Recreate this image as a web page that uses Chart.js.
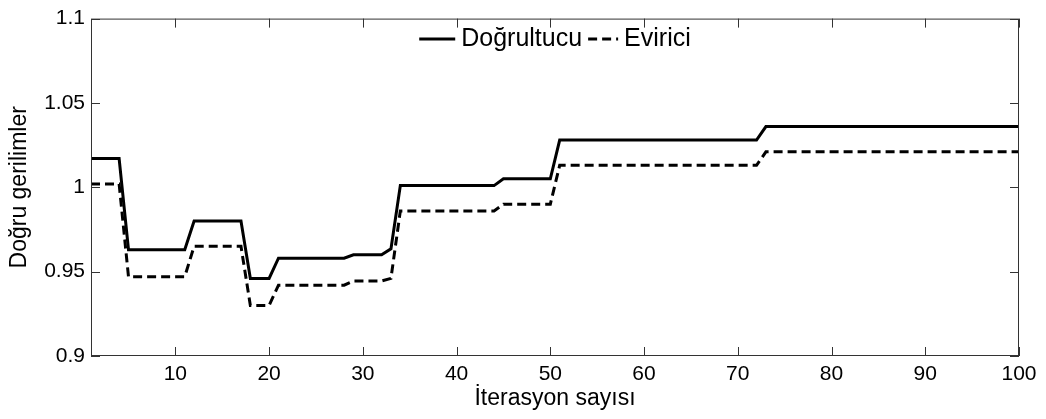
<!DOCTYPE html>
<html>
<head>
<meta charset="utf-8">
<script src="https://cdn.jsdelivr.net/npm/chart.js@4/dist/chart.umd.min.js"></script>
<style>
    html, body { margin: 0; padding: 0; background: #fff; }
</style>
</head>
<body>
<canvas id="voltageChart" width="1046" height="419"></canvas>
<script>
// Breakpoints of the two step curves (iteration -> voltage)
const iterations = [1, 4, 5, 11, 12, 17, 18, 20, 21, 28, 29, 32, 33, 34, 44, 45, 50, 51, 72, 73, 100];
const rectifier  = [1.017, 1.017, 0.963, 0.963, 0.980, 0.980, 0.946, 0.946, 0.958, 0.958, 0.960, 0.960, 0.9635, 1.001, 1.001, 1.005, 1.005, 1.028, 1.028, 1.036, 1.036];
const inverter   = [1.002, 1.002, 0.947, 0.947, 0.965, 0.965, 0.930, 0.930, 0.942, 0.942, 0.9445, 0.9445, 0.946, 0.986, 0.986, 0.990, 0.990, 1.013, 1.013, 1.021, 1.021];

const xTicks = [10, 20, 30, 40, 50, 60, 70, 80, 90, 100];
const yTicks = [0.9, 0.95, 1, 1.05, 1.1];

const FONT = '"Liberation Sans", Arial, sans-serif';

function toPoints(values) {
    return values.map((v, i) => ({ x: iterations[i], y: v }));
}

// Box around the plot, inward tick marks and the legend inside the plot
const framePlugin = {
    id: 'frame',
    afterDraw(chart) {
        const { ctx, chartArea: a, scales: { x, y } } = chart;
        const tick = 9;
        ctx.save();
        ctx.strokeStyle = '#333';
        ctx.lineWidth = 1;
        ctx.strokeRect(a.left + 0.5, a.top + 0.5, a.right - a.left - 1, a.bottom - a.top - 1);

        ctx.beginPath();
        xTicks.forEach(v => {
            const px = Math.round(x.getPixelForValue(v)) + 0.5;
            ctx.moveTo(px, a.bottom); ctx.lineTo(px, a.bottom - tick);
            ctx.moveTo(px, a.top); ctx.lineTo(px, a.top + tick);
        });
        yTicks.forEach(v => {
            const py = Math.round(y.getPixelForValue(v)) + 0.5;
            ctx.moveTo(a.left, py); ctx.lineTo(a.left + tick, py);
            ctx.moveTo(a.right, py); ctx.lineTo(a.right - tick, py);
        });
        ctx.stroke();

        // legend
        ctx.font = '25px ' + FONT;
        ctx.textBaseline = 'middle';
        ctx.fillStyle = '#000';
        const items = chart.data.datasets.map(ds => ({
            ds,
            sample: ds.borderDash && ds.borderDash.length ? 30 : 36,
            text: ctx.measureText(ds.label).width
        }));
        const gapText = 6, gapItem = 6;
        const total = items.reduce((s, it) => s + it.sample + gapText + it.text, 0) + gapItem * (items.length - 1);
        let cx = (a.left + a.right) / 2 - total / 2;
        const ly = 39;
        items.forEach(it => {
            ctx.beginPath();
            ctx.lineWidth = it.ds.borderWidth;
            ctx.strokeStyle = it.ds.borderColor;
            ctx.setLineDash(it.ds.borderDash || []);
            ctx.moveTo(cx, ly);
            ctx.lineTo(cx + it.sample, ly);
            ctx.stroke();
            ctx.setLineDash([]);
            cx += it.sample + gapText;
            ctx.fillText(it.ds.label, cx, ly);
            cx += it.text + gapItem;
        });
        ctx.restore();
    }
};

new Chart(document.getElementById('voltageChart'), {
    type: 'line',
    data: {
        datasets: [{
            label: 'Doğrultucu',
            data: toPoints(rectifier),
            borderColor: '#000',
            borderWidth: 3,
            borderDash: [],
            pointRadius: 0,
            tension: 0
        }, {
            label: 'Evirici',
            data: toPoints(inverter),
            borderColor: '#000',
            borderWidth: 3,
            borderDash: [9, 5],
            pointRadius: 0,
            tension: 0
        }]
    },
    options: {
        responsive: false,
        animation: false,
        devicePixelRatio: 1,
        layout: {
            padding: { top: 16, right: 27, bottom: 0, left: 0 }
        },
        scales: {
            x: {
                type: 'linear',
                min: 1,
                max: 100,
                afterBuildTicks: scale => { scale.ticks = xTicks.map(v => ({ value: v })); },
                afterFit: scale => { scale.height = 63; },
                grid: { display: false, drawTicks: false },
                border: { display: false },
                ticks: {
                    padding: 6,
                    color: '#000',
                    maxRotation: 0,
                    font: { family: FONT, size: 21 }
                },
                title: {
                    display: true,
                    text: 'İterasyon sayısı',
                    color: '#000',
                    padding: { top: 0, bottom: 7 },
                    font: { family: FONT, size: 23 }
                }
            },
            y: {
                min: 0.9,
                max: 1.1,
                afterBuildTicks: scale => { scale.ticks = yTicks.map(v => ({ value: v })); },
                afterFit: scale => { scale.width = 91; },
                grid: { display: false, drawTicks: false },
                border: { display: false },
                ticks: {
                    padding: 6,
                    color: '#000',
                    font: { family: FONT, size: 21 },
                    callback: v => String(v)
                },
                title: {
                    display: true,
                    text: 'Doğru gerilimler',
                    color: '#000',
                    padding: { top: 6, bottom: 0 },
                    font: { family: FONT, size: 23 }
                }
            }
        },
        plugins: {
            legend: { display: false },
            tooltip: { enabled: false }
        }
    },
    plugins: [framePlugin]
});
</script>
</body>
</html>
